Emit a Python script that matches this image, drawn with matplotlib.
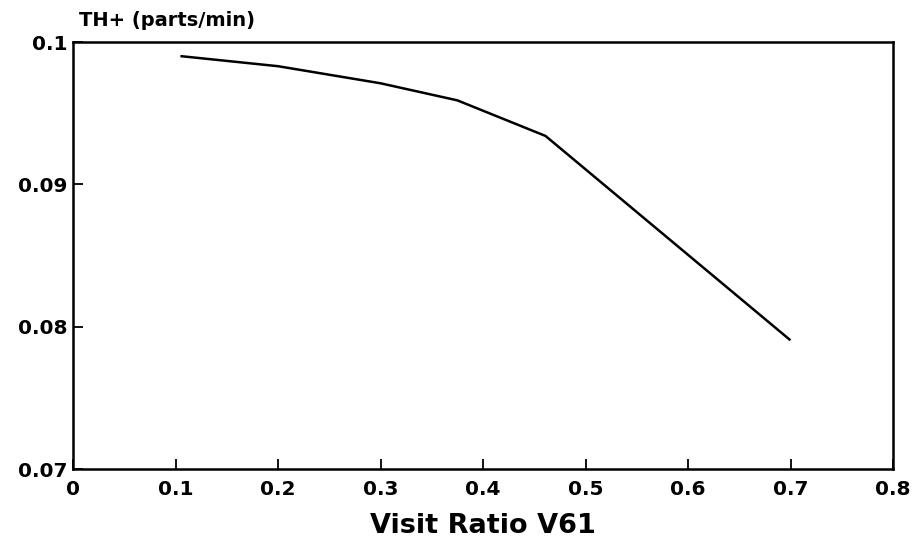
import matplotlib
matplotlib.use("Agg")
import matplotlib.pyplot as plt

visit_ratio = [0.106, 0.2, 0.3, 0.375, 0.461, 0.699]
throughput = [0.0990, 0.0983, 0.0971, 0.0959, 0.0934, 0.0791]

x_ticks = [0, 0.1, 0.2, 0.3, 0.4, 0.5, 0.6, 0.7, 0.8]
x_tick_labels = ["0", "0.1", "0.2", "0.3", "0.4", "0.5", "0.6", "0.7", "0.8"]
y_ticks = [0.07, 0.08, 0.09, 0.1]
y_tick_labels = ["0.07", "0.08", "0.09", "0.1"]

plt.rcParams['font.family'] = ['DejaVu Sans']

fig = plt.figure(figsize=(9.14, 5.56), dpi=100)
ax = fig.add_axes([73/914, 1-469/556, (893-73)/914, (469-42)/556])

ax.plot(visit_ratio, throughput, color='black', lw=1.8)

ax.set_xlim(0, 0.8)
ax.set_ylim(0.07, 0.1)
ax.set_xticks(x_ticks)
ax.set_xticklabels(x_tick_labels, fontsize=14.5, fontweight='bold')
ax.set_yticks(y_ticks)
ax.set_yticklabels(y_tick_labels, fontsize=14.5, fontweight='bold')
ax.tick_params(direction='in', length=7, width=1.3)
ax.tick_params(axis='x', pad=8)
ax.tick_params(axis='y', pad=4)
for s in ax.spines.values():
    s.set_linewidth(1.8)

ax.set_xlabel("Visit Ratio V61", fontsize=19.5, fontweight='bold', labelpad=10)
fig.text(79/914, 1-20/556, "TH+ (parts/min)", fontsize=14, fontweight='bold',
         ha='left', va='center')

fig.savefig("out.png", dpi=100)
